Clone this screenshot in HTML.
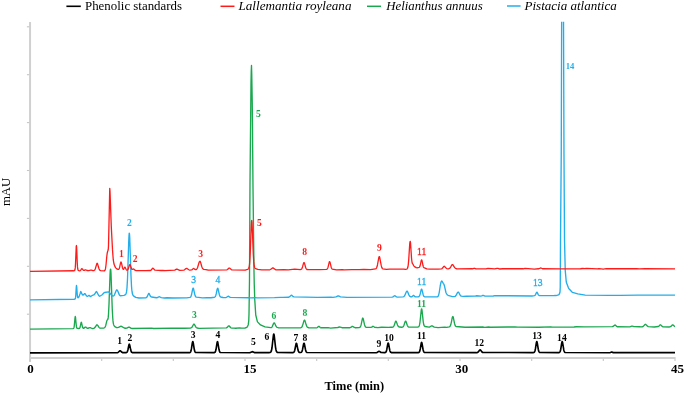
<!DOCTYPE html>
<html><head><meta charset="utf-8"><title>HPLC chromatograms</title>
<style>
html,body{margin:0;padding:0;background:#fff;}
body{width:685px;height:394px;overflow:hidden;}
svg{display:block;font-family:"Liberation Serif","Times New Roman",serif;}
</style></head><body>
<svg width="685" height="394" viewBox="0 0 685 394">
<rect width="685" height="394" fill="#fff"/>
<defs><clipPath id="plotclip"><rect x="29" y="21.8" width="650" height="340"/></clipPath></defs>
<g stroke="#d0d0d0" stroke-width="2" fill="none">
<line x1="30.05" y1="22" x2="30.05" y2="361.9"/>
<line x1="29.05" y1="357.95" x2="675.6" y2="357.95"/>
</g>
<g stroke="#c6c6c6" stroke-width="1.1" fill="none">
<line x1="26.9" y1="26.8" x2="29.2" y2="26.8"/><line x1="26.9" y1="74.7" x2="29.2" y2="74.7"/><line x1="26.9" y1="122.6" x2="29.2" y2="122.6"/><line x1="26.9" y1="170.5" x2="29.2" y2="170.5"/><line x1="26.9" y1="218.4" x2="29.2" y2="218.4"/><line x1="26.9" y1="266.3" x2="29.2" y2="266.3"/><line x1="26.9" y1="314.2" x2="29.2" y2="314.2"/>
<line x1="30.0" y1="358.7" x2="30.0" y2="361.0"/><line x1="101.7" y1="358.7" x2="101.7" y2="361.0"/><line x1="173.3" y1="358.7" x2="173.3" y2="361.0"/><line x1="245.0" y1="358.7" x2="245.0" y2="361.0"/><line x1="316.7" y1="358.7" x2="316.7" y2="361.0"/><line x1="388.3" y1="358.7" x2="388.3" y2="361.0"/><line x1="460.0" y1="358.7" x2="460.0" y2="361.0"/><line x1="531.7" y1="358.7" x2="531.7" y2="361.0"/><line x1="603.3" y1="358.7" x2="603.3" y2="361.0"/><line x1="675.0" y1="358.7" x2="675.0" y2="361.0"/>
</g>
<g fill="none" stroke-linejoin="round" stroke-linecap="butt">
<path stroke="#1aa84f" stroke-width="1.35" d="M30.00,329.10 L73.00,328.65 L73.50,328.47 L73.75,328.15 L74.00,327.44 L74.25,326.05 L75.00,318.07 L75.25,316.52 L75.50,317.21 L76.25,325.19 L76.50,326.89 L76.75,327.82 L77.00,328.25 L77.25,328.41 L79.00,328.49 L79.25,328.44 L79.50,328.31 L79.75,328.02 L80.00,327.48 L80.50,325.44 L81.00,322.93 L81.25,322.32 L81.50,322.58 L82.50,327.05 L82.75,327.70 L83.00,328.06 L83.25,328.23 L83.50,328.28 L84.00,328.14 L85.25,327.10 L85.50,327.03 L85.75,327.11 L86.75,328.00 L87.25,328.23 L88.00,328.25 L89.75,327.67 L90.25,327.70 L92.00,328.51 L93.00,328.58 L93.75,328.40 L94.50,327.93 L95.25,327.03 L96.50,325.10 L96.75,324.89 L97.00,324.81 L97.25,324.89 L97.75,325.44 L99.00,327.38 L99.50,327.86 L100.25,328.20 L103.50,328.08 L104.25,327.82 L104.75,327.47 L105.25,326.78 L105.75,325.43 L106.75,321.16 L107.00,320.40 L107.25,320.00 L107.75,319.56 L108.00,318.80 L108.25,317.14 L108.50,314.28 L109.00,304.32 L110.00,275.52 L110.25,270.87 L110.50,269.19 L110.75,269.60 L111.00,273.56 L112.25,309.05 L112.75,318.06 L113.00,320.89 L113.25,322.85 L113.50,324.16 L113.75,325.03 L114.25,326.02 L115.25,326.95 L116.50,327.54 L117.50,327.66 L118.50,327.43 L120.50,326.35 L121.00,326.25 L121.50,326.33 L124.25,327.98 L125.75,328.28 L126.75,328.15 L128.75,327.14 L129.25,327.15 L131.25,328.31 L132.50,328.52 L151.50,328.14 L153.75,328.48 L171.75,328.08 L184.50,328.29 L190.75,327.98 L191.50,327.66 L192.00,327.18 L193.50,324.48 L193.75,324.19 L194.00,324.11 L194.25,324.24 L194.75,325.01 L195.75,326.92 L196.25,327.53 L197.00,328.02 L199.00,328.44 L226.25,327.94 L226.75,327.75 L227.25,327.35 L228.25,326.11 L228.50,325.91 L228.75,325.82 L229.00,325.82 L229.50,326.29 L230.50,327.53 L231.00,327.87 L232.00,328.08 L234.00,328.07 L235.75,328.29 L239.50,327.88 L241.75,328.17 L245.00,328.01 L246.25,327.66 L247.25,326.88 L247.50,326.52 L248.25,324.69 L248.75,320.87 L249.00,314.05 L249.50,279.94 L250.00,182.72 L251.00,82.54 L251.25,70.87 L251.50,65.54 L251.75,74.41 L252.25,103.50 L253.00,187.98 L254.00,271.74 L254.25,284.61 L254.75,299.58 L255.75,315.01 L257.25,321.11 L257.50,321.85 L260.50,324.94 L265.00,326.84 L270.75,327.68 L271.25,327.58 L271.75,327.24 L272.25,326.52 L273.50,323.63 L273.75,323.21 L274.00,322.99 L274.25,322.91 L274.50,323.05 L275.00,323.97 L276.00,326.22 L276.50,326.93 L277.00,327.34 L278.25,327.72 L290.50,327.86 L300.75,327.72 L301.25,327.56 L301.75,327.14 L302.25,326.31 L303.00,324.11 L303.75,321.40 L304.00,320.71 L304.25,320.30 L304.50,320.17 L304.75,320.34 L305.00,320.87 L306.25,325.07 L306.75,326.26 L307.25,327.01 L307.75,327.43 L308.75,327.76 L316.50,327.83 L317.25,327.58 L318.50,326.43 L318.75,326.32 L319.00,326.36 L320.25,327.52 L321.00,327.79 L328.25,327.70 L330.50,328.10 L337.75,327.51 L339.50,326.98 L340.25,327.05 L342.00,327.72 L350.00,327.72 L350.75,327.47 L352.00,326.47 L352.25,326.35 L352.50,326.34 L353.00,326.56 L354.25,327.44 L355.50,327.75 L359.25,327.57 L359.75,327.40 L360.25,326.96 L360.75,325.97 L361.25,324.20 L362.25,319.32 L362.50,318.46 L362.75,318.07 L363.00,318.23 L363.25,318.90 L364.50,324.67 L365.00,326.15 L365.50,326.92 L366.00,327.26 L371.00,327.38 L371.75,327.16 L372.75,326.41 L373.00,326.30 L373.25,326.32 L374.50,327.24 L377.75,327.58 L381.50,327.23 L388.75,327.31 L390.75,327.08 L392.25,327.23 L392.75,327.14 L393.25,326.87 L393.75,326.29 L394.25,325.26 L395.50,321.51 L395.75,321.12 L396.00,321.07 L396.25,321.37 L397.50,324.97 L398.00,325.99 L398.50,326.57 L399.50,327.04 L401.75,327.29 L402.50,327.16 L403.00,326.87 L403.50,326.26 L404.00,325.16 L405.00,322.01 L405.25,321.42 L405.50,321.10 L405.75,321.12 L406.00,321.49 L407.25,325.22 L407.75,326.26 L408.25,326.84 L409.00,327.19 L417.75,327.11 L418.25,326.97 L418.75,326.62 L419.00,326.28 L419.25,325.73 L419.50,324.89 L420.00,322.01 L421.25,310.09 L421.50,308.99 L421.75,308.96 L422.00,310.11 L423.25,321.87 L423.75,324.57 L424.00,325.35 L424.25,325.85 L424.50,326.16 L425.00,326.46 L429.00,327.07 L429.75,326.96 L431.50,325.92 L431.75,325.85 L432.25,325.95 L434.25,327.06 L438.00,327.61 L444.75,327.14 L446.75,327.34 L449.25,326.85 L449.75,326.60 L450.25,325.99 L450.75,324.78 L451.50,321.54 L452.25,317.73 L452.50,316.90 L452.75,316.55 L453.00,316.61 L453.25,317.22 L454.50,323.41 L455.00,325.13 L455.50,326.09 L456.00,326.51 L465.00,327.26 L482.75,326.96 L484.75,327.30 L488.50,327.03 L490.50,327.24 L508.00,327.03 L515.00,326.92 L517.75,327.19 L538.75,327.21 L550.75,326.80 L552.50,327.15 L574.00,327.01 L576.25,326.78 L584.25,326.90 L612.25,326.66 L613.00,326.45 L614.75,325.10 L615.00,325.03 L615.25,325.08 L616.75,326.48 L617.50,326.77 L629.75,326.88 L631.75,326.14 L632.25,326.12 L634.00,326.66 L639.25,326.71 L641.25,326.94 L642.50,326.73 L643.25,326.35 L645.00,324.50 L645.25,324.34 L645.50,324.29 L645.75,324.37 L647.50,326.20 L648.25,326.64 L654.25,327.02 L658.25,326.51 L658.75,326.28 L660.25,324.86 L660.50,324.80 L660.75,324.87 L662.25,326.43 L663.00,326.81 L669.50,326.97 L670.50,326.68 L671.25,326.12 L672.25,325.04 L672.50,324.88 L672.75,324.85 L673.00,324.94 L674.50,326.35 L675.00,326.60"/>
<path stroke="#22aeea" stroke-width="1.35" clip-path="url(#plotclip)" d="M30.00,299.80 L74.00,299.24 L75.00,299.00 L75.25,298.80 L75.50,297.95 L75.75,295.72 L76.25,287.62 L76.50,285.40 L76.75,287.41 L77.25,294.52 L77.50,296.60 L77.75,297.55 L78.00,297.77 L78.25,297.69 L78.75,297.24 L79.00,296.85 L80.00,293.89 L80.50,292.06 L80.75,291.54 L81.00,291.74 L81.50,293.20 L82.50,294.83 L82.75,295.09 L83.00,295.15 L83.25,294.99 L84.50,293.68 L84.75,293.56 L85.00,293.65 L86.00,295.19 L86.75,296.03 L87.00,296.23 L87.25,296.28 L88.00,296.06 L88.75,295.49 L89.00,295.40 L89.25,295.50 L90.25,296.45 L90.50,296.57 L90.75,296.53 L92.50,295.28 L93.75,294.96 L94.50,294.38 L96.25,291.67 L96.50,291.51 L96.75,291.69 L98.50,295.21 L99.25,296.01 L99.50,296.18 L99.75,296.24 L102.25,294.71 L104.00,292.80 L104.50,292.47 L108.50,291.89 L108.75,291.91 L109.00,292.02 L111.50,295.12 L112.75,296.05 L113.00,296.13 L113.75,295.73 L114.25,295.18 L116.25,290.39 L116.50,290.04 L116.75,289.85 L117.00,289.87 L117.25,290.12 L117.75,291.05 L119.25,294.63 L119.75,295.38 L120.25,295.76 L124.00,295.33 L125.00,294.95 L125.50,294.59 L125.75,294.29 L126.00,293.82 L126.25,293.10 L126.50,291.97 L126.75,290.22 L127.00,287.61 L127.50,278.92 L128.75,241.14 L129.00,235.65 L129.25,233.19 L129.50,233.96 L129.75,238.14 L131.00,276.07 L131.50,286.05 L131.75,289.24 L132.00,291.48 L132.25,293.01 L132.50,294.04 L133.00,295.25 L133.75,296.15 L135.75,297.42 L139.00,297.99 L146.00,297.74 L146.50,297.52 L147.00,296.94 L148.25,294.17 L148.50,293.99 L148.75,293.35 L149.00,293.38 L150.25,296.01 L150.75,296.60 L151.50,296.98 L156.50,297.71 L157.50,297.54 L159.00,296.75 L159.50,296.73 L161.25,297.60 L164.25,297.96 L167.00,297.71 L173.25,297.96 L186.75,297.87 L190.00,297.43 L190.50,297.14 L190.75,296.84 L191.00,296.37 L191.50,294.82 L192.50,289.87 L192.75,288.88 L193.00,288.34 L193.25,288.17 L193.50,288.55 L194.75,294.34 L195.25,295.93 L195.75,296.79 L196.25,297.20 L202.50,297.84 L207.00,297.64 L211.00,297.75 L214.50,297.23 L215.00,296.92 L215.25,296.62 L215.75,295.54 L216.25,293.64 L217.00,289.93 L217.25,288.98 L217.50,288.47 L217.75,288.27 L218.00,288.61 L219.25,294.26 L219.75,295.80 L220.25,296.61 L220.75,296.99 L223.00,297.53 L225.50,297.56 L226.50,297.28 L228.00,296.31 L228.25,296.24 L228.50,296.26 L230.25,297.42 L248.50,297.74 L250.00,297.95 L255.00,297.59 L257.25,297.91 L274.50,297.62 L280.50,297.34 L282.75,297.38 L288.50,297.26 L289.25,296.96 L291.00,295.41 L291.50,295.26 L291.75,295.32 L293.25,296.69 L294.00,296.94 L317.50,297.36 L331.00,297.22 L333.00,297.40 L336.00,296.92 L338.00,295.93 L338.50,295.91 L340.50,296.83 L347.00,297.30 L392.00,297.19 L393.00,296.83 L394.50,295.80 L394.75,295.76 L395.25,295.94 L396.50,296.83 L397.50,297.07 L403.00,296.81 L403.75,296.55 L404.25,296.17 L404.75,295.49 L406.25,292.01 L406.50,291.58 L406.75,291.34 L407.00,291.22 L407.25,291.26 L407.50,291.58 L409.00,295.12 L409.50,295.91 L410.00,296.40 L410.75,296.78 L411.50,296.86 L412.00,296.71 L412.50,296.33 L413.25,295.51 L413.50,295.38 L413.75,295.42 L415.00,296.71 L415.50,296.92 L418.25,296.85 L418.75,296.68 L419.25,296.26 L419.75,295.34 L420.25,293.70 L421.00,290.41 L421.25,289.55 L421.50,289.11 L421.75,289.19 L422.00,289.80 L423.25,295.02 L423.75,296.16 L424.00,296.46 L424.50,296.73 L437.25,296.91 L438.50,295.66 L439.25,292.28 L440.25,285.75 L441.00,282.02 L441.50,281.25 L441.75,281.01 L442.50,282.02 L443.25,283.37 L443.75,283.96 L444.00,284.46 L444.50,286.10 L446.00,292.75 L447.00,294.54 L448.00,295.35 L452.50,296.64 L454.25,296.63 L455.00,296.41 L455.50,296.08 L456.00,295.51 L457.50,292.66 L457.75,292.32 L458.25,292.07 L458.50,292.18 L459.00,292.95 L460.00,294.94 L460.50,295.58 L461.25,296.08 L463.25,296.41 L466.25,296.29 L475.25,296.15 L476.75,295.74 L480.75,296.12 L481.75,295.91 L482.75,295.45 L483.25,295.42 L485.00,296.17 L493.25,296.03 L495.00,295.62 L532.00,295.98 L534.50,295.68 L535.00,295.35 L535.50,294.62 L536.50,292.53 L536.75,292.32 L537.00,292.29 L537.25,292.57 L538.25,294.59 L538.75,295.21 L539.25,295.50 L553.50,295.67 L555.50,295.49 L556.00,295.55 L558.50,294.85 L558.75,294.72 L559.50,293.77 L560.00,292.01 L560.25,287.09 L560.50,239.87 L561.25,153.58 L561.75,-16.14 L562.00,-78.91 L562.25,-100.00 L563.00,-100.00 L563.25,-54.63 L564.00,156.09 L564.50,239.70 L565.25,270.62 L566.25,281.72 L566.50,282.80 L568.50,288.05 L568.75,288.47 L572.25,292.25 L572.50,292.45 L577.75,293.90 L585.25,295.10 L609.50,295.37 L620.25,295.33 L637.75,295.09 L675.00,295.14"/>
<path stroke="#ff1a1a" stroke-width="1.3" d="M30.00,271.40 L73.75,270.77 L74.25,270.66 L74.50,270.54 L74.75,270.24 L75.00,269.47 L75.25,267.65 L75.50,264.05 L76.25,246.16 L76.50,245.54 L76.75,250.14 L77.25,262.89 L77.50,266.89 L77.75,269.01 L78.00,269.94 L78.25,270.33 L79.00,270.68 L79.75,270.78 L80.25,270.62 L80.75,270.14 L81.50,268.97 L81.75,268.71 L82.00,268.67 L82.25,268.85 L83.25,270.19 L83.75,270.46 L84.25,270.42 L85.25,269.86 L85.50,269.80 L86.00,269.96 L87.00,270.52 L88.75,270.63 L90.75,270.05 L91.25,270.05 L93.00,270.59 L93.75,270.55 L94.25,270.36 L94.75,269.92 L95.25,269.02 L96.75,263.90 L97.00,263.40 L97.25,263.28 L97.50,263.60 L99.00,268.77 L99.50,269.80 L100.00,270.32 L100.75,270.57 L104.50,270.80 L104.75,270.54 L105.25,269.71 L105.50,268.71 L106.00,264.98 L106.75,256.76 L107.25,252.82 L107.75,251.05 L108.00,250.56 L108.25,249.45 L108.50,245.83 L109.75,188.37 L110.00,191.31 L111.25,225.69 L112.50,249.89 L113.25,259.70 L114.00,264.04 L114.75,266.12 L115.75,267.84 L116.75,268.87 L118.00,269.40 L118.50,269.39 L118.75,269.27 L119.00,269.00 L119.25,268.53 L119.50,267.85 L120.50,263.15 L120.75,262.34 L121.00,262.04 L121.25,262.33 L121.50,263.13 L122.50,267.71 L122.75,268.50 L123.00,269.02 L123.25,269.27 L123.50,269.26 L123.75,269.02 L124.50,267.57 L124.75,267.24 L125.00,267.24 L125.25,267.56 L126.00,269.26 L126.50,270.00 L126.75,270.17 L127.00,270.22 L127.25,270.18 L127.50,270.04 L127.75,269.79 L128.25,268.90 L129.50,265.03 L129.75,264.61 L130.00,264.58 L130.25,264.95 L131.25,268.09 L131.50,268.70 L131.75,269.13 L132.00,269.38 L132.25,269.45 L133.25,269.02 L133.50,269.00 L133.75,269.10 L135.00,270.20 L136.00,270.54 L145.75,270.70 L150.50,270.48 L151.00,270.23 L152.50,268.37 L152.75,268.23 L153.00,268.25 L153.50,268.68 L154.50,269.80 L155.25,270.18 L161.00,270.48 L162.75,270.30 L165.00,270.60 L174.75,270.07 L176.50,269.19 L177.00,269.17 L179.75,270.28 L183.75,270.10 L184.50,269.79 L186.00,268.50 L186.50,268.34 L187.00,268.49 L188.75,269.75 L189.75,270.09 L191.50,269.91 L192.25,269.58 L193.25,268.59 L193.50,268.44 L193.75,268.43 L195.00,269.46 L195.50,269.65 L196.00,269.64 L196.50,269.40 L197.00,268.83 L197.50,267.79 L199.00,262.73 L199.25,262.08 L199.50,261.67 L200.00,261.19 L200.25,261.44 L200.75,262.87 L201.75,266.49 L202.25,267.80 L202.75,268.65 L203.25,269.14 L203.75,269.36 L206.00,269.60 L208.25,270.17 L226.75,269.86 L227.50,269.52 L228.75,268.30 L229.00,268.13 L229.25,268.06 L229.50,268.10 L231.25,269.56 L232.00,269.88 L245.25,270.04 L247.50,269.43 L248.25,268.96 L248.50,268.68 L248.75,268.24 L249.00,267.51 L249.25,266.33 L249.50,264.47 L249.75,261.67 L250.25,252.53 L251.25,225.73 L251.50,221.59 L251.75,220.39 L252.00,222.12 L252.50,233.51 L253.25,253.58 L253.75,261.90 L254.00,264.37 L254.25,266.01 L254.50,267.05 L254.75,267.71 L255.00,268.13 L255.50,268.61 L257.75,269.41 L261.75,269.83 L269.50,269.83 L270.50,269.50 L272.50,268.00 L273.00,267.91 L273.50,268.13 L275.00,269.36 L276.00,269.79 L283.75,269.60 L288.25,269.91 L294.75,269.15 L300.25,269.61 L301.00,269.44 L301.50,269.08 L302.00,268.29 L302.50,266.92 L303.50,263.35 L303.75,262.79 L304.00,262.60 L304.25,262.82 L304.50,263.40 L305.75,267.78 L306.25,268.86 L306.75,269.42 L307.25,269.68 L320.00,269.54 L326.25,269.44 L326.75,269.31 L327.25,268.96 L327.50,268.61 L328.00,267.38 L329.25,262.13 L329.50,261.63 L329.75,261.66 L330.00,262.22 L331.25,267.38 L331.75,268.56 L332.25,269.12 L336.50,269.78 L342.25,269.54 L344.25,269.89 L351.75,269.54 L359.25,269.64 L363.75,269.39 L370.50,269.65 L375.50,268.98 L376.00,268.71 L376.50,268.07 L377.00,266.81 L377.50,264.73 L378.75,257.80 L379.00,256.95 L379.25,256.61 L379.50,256.82 L379.75,257.57 L381.25,265.63 L381.75,267.37 L382.25,268.38 L382.75,268.87 L386.50,269.41 L389.50,269.09 L403.75,269.04 L405.50,269.35 L406.50,269.18 L407.00,268.92 L407.25,268.67 L407.50,268.26 L407.75,267.58 L408.00,266.50 L408.25,264.84 L408.75,259.33 L409.75,243.66 L410.00,241.76 L410.25,241.35 L410.50,242.93 L411.50,257.59 L411.75,260.26 L412.00,262.07 L412.25,263.14 L412.50,263.69 L413.25,264.70 L414.00,266.09 L414.50,266.65 L416.25,267.64 L417.00,267.78 L419.25,267.29 L419.50,267.09 L419.75,266.72 L420.00,266.10 L420.50,264.10 L421.25,260.49 L421.50,259.90 L421.75,259.97 L422.00,260.67 L423.00,265.54 L423.25,266.42 L423.50,267.03 L423.75,267.42 L424.00,267.64 L426.75,268.84 L430.00,269.05 L438.25,269.06 L441.50,268.83 L442.00,268.60 L442.75,267.79 L443.75,266.46 L444.00,266.30 L444.25,266.26 L444.50,266.37 L446.00,268.03 L446.75,268.52 L448.25,268.83 L449.00,268.72 L449.50,268.48 L450.00,268.03 L450.75,266.87 L451.75,265.00 L452.00,264.74 L452.50,264.53 L452.75,264.68 L454.50,267.45 L455.50,268.37 L456.25,268.75 L457.25,268.84 L472.50,268.76 L474.00,268.26 L474.50,268.30 L476.00,268.89 L486.00,268.91 L488.00,268.30 L494.75,268.92 L497.00,268.28 L497.75,268.37 L499.50,268.98 L503.00,268.74 L523.25,268.76 L525.00,268.33 L534.25,269.07 L538.50,268.77 L540.50,267.99 L541.00,267.99 L542.50,268.76 L560.50,268.82 L580.50,268.77 L582.75,268.49 L584.50,268.62 L586.50,268.35 L597.25,268.89 L599.00,268.68 L603.25,269.09 L606.25,268.68 L636.75,268.74 L639.25,268.90 L645.00,268.62 L675.00,268.81"/>
<path stroke="#000" stroke-width="1.65" d="M30.00,352.90 L117.25,352.75 L118.00,352.50 L119.75,350.89 L120.00,350.79 L120.25,350.80 L120.75,351.13 L122.00,352.35 L122.75,352.68 L126.00,352.69 L126.50,352.56 L127.00,352.20 L127.25,351.83 L127.50,351.28 L128.00,349.47 L128.75,345.64 L129.00,344.66 L129.25,344.20 L129.50,344.41 L129.75,345.20 L130.75,350.11 L131.25,351.64 L131.50,352.08 L131.75,352.36 L132.25,352.63 L189.50,352.64 L190.00,352.47 L190.25,352.30 L190.50,352.00 L190.75,351.52 L191.00,350.80 L191.50,348.45 L192.25,343.47 L192.50,342.20 L192.75,341.61 L193.00,341.87 L193.25,342.90 L194.25,349.28 L194.75,351.26 L195.00,351.83 L195.25,352.19 L195.75,352.54 L214.00,352.66 L214.75,352.44 L215.00,352.24 L215.25,351.91 L215.50,351.39 L216.00,349.53 L217.00,343.18 L217.25,342.02 L217.50,341.59 L217.75,342.02 L219.00,349.53 L219.50,351.39 L219.75,351.91 L220.00,352.24 L220.50,352.55 L249.75,352.72 L252.25,351.69 L252.75,351.74 L254.75,352.65 L269.50,352.57 L270.25,352.38 L270.75,352.02 L271.00,351.67 L271.25,351.14 L271.50,350.35 L272.00,347.75 L273.25,336.50 L273.50,334.86 L273.75,334.11 L274.00,334.44 L274.25,335.75 L275.50,347.04 L276.00,349.94 L276.25,350.85 L276.50,351.48 L276.75,351.89 L277.25,352.32 L292.75,352.65 L293.50,352.46 L294.00,352.06 L294.25,351.66 L294.75,350.27 L296.00,344.06 L296.25,343.37 L296.50,343.30 L296.75,343.87 L298.00,350.04 L298.50,351.51 L298.75,351.94 L299.00,352.20 L299.50,352.46 L300.75,352.49 L301.25,352.31 L301.50,352.11 L301.75,351.79 L302.00,351.30 L302.50,349.64 L303.50,344.47 L303.75,343.58 L304.00,343.25 L304.25,343.58 L304.50,344.48 L305.50,349.67 L306.00,351.34 L306.25,351.84 L306.50,352.18 L307.00,352.51 L376.25,352.72 L377.00,352.50 L378.75,351.32 L379.00,351.27 L379.50,351.43 L381.00,352.48 L384.75,352.65 L385.50,352.43 L385.75,352.24 L386.00,351.92 L386.25,351.43 L386.75,349.70 L387.75,344.13 L388.00,343.23 L388.25,343.01 L388.50,343.52 L389.75,350.14 L390.00,351.03 L390.25,351.66 L390.50,352.07 L390.75,352.33 L391.25,352.58 L418.25,352.63 L418.75,352.49 L419.25,352.09 L419.50,351.69 L419.75,351.07 L420.25,349.01 L421.25,343.15 L421.50,342.46 L421.75,342.54 L422.00,343.37 L423.00,349.26 L423.50,351.21 L423.75,351.78 L424.00,352.15 L424.50,352.51 L476.75,352.69 L477.50,352.48 L478.25,351.91 L479.50,350.27 L479.75,350.03 L480.00,349.91 L480.25,349.92 L480.50,350.07 L482.00,351.96 L482.75,352.50 L533.50,352.58 L534.00,352.42 L534.25,352.24 L534.50,351.95 L534.75,351.47 L535.00,350.75 L535.50,348.41 L536.25,343.47 L536.50,342.20 L536.75,341.61 L537.00,341.87 L537.25,342.90 L538.25,349.24 L538.75,351.21 L539.00,351.78 L539.25,352.14 L539.75,352.48 L558.75,352.60 L559.25,352.48 L559.75,352.13 L560.00,351.78 L560.25,351.21 L560.75,349.24 L561.75,342.90 L562.00,341.87 L562.25,341.61 L562.50,342.20 L563.75,349.73 L564.00,350.75 L564.25,351.47 L564.50,351.94 L564.75,352.24 L565.25,352.52 L609.75,352.71 L610.50,352.52 L611.50,352.03 L611.75,352.00 L613.25,352.63 L675.00,352.60"/>
</g>
<g>
<text x="121.3" y="257.0" fill="#ff1a1a" font-size="9.6" font-weight="bold" text-anchor="middle">1</text>
<text x="135.1" y="261.8" fill="#ff1a1a" font-size="9.6" font-weight="bold" text-anchor="middle">2</text>
<text x="200.6" y="256.5" fill="#ff1a1a" font-size="9.6" font-weight="bold" text-anchor="middle">3</text>
<text x="259.3" y="226.2" fill="#ff1a1a" font-size="9.6" font-weight="bold" text-anchor="middle">5</text>
<text x="304.7" y="255.4" fill="#ff1a1a" font-size="9.6" font-weight="bold" text-anchor="middle">8</text>
<text x="379.3" y="250.8" fill="#ff1a1a" font-size="9.6" font-weight="bold" text-anchor="middle">9</text>
<text x="421.6" y="255.1" fill="#ff1a1a" stroke="#ff1a1a" stroke-width="0.3" font-size="9.6" font-weight="normal" text-anchor="middle">11</text>
<text x="129.5" y="226.4" fill="#22aeea" font-size="9.6" font-weight="bold" text-anchor="middle">2</text>
<text x="193.6" y="282.5" fill="#22aeea" stroke="#22aeea" stroke-width="0.3" font-size="9.6" font-weight="normal" text-anchor="middle">3</text>
<text x="218.0" y="282.5" fill="#22aeea" stroke="#22aeea" stroke-width="0.3" font-size="9.6" font-weight="normal" text-anchor="middle">4</text>
<text x="421.6" y="284.8" fill="#22aeea" stroke="#22aeea" stroke-width="0.3" font-size="9.6" font-weight="normal" text-anchor="middle">11</text>
<text x="537.7" y="286.4" fill="#22aeea" stroke="#22aeea" stroke-width="0.3" font-size="9.6" font-weight="normal" text-anchor="middle">13</text>
<text x="570.0" y="69.0" fill="#22aeea" font-size="8.6" font-weight="bold" text-anchor="middle">14</text>
<text x="258.4" y="117.0" fill="#1aa84f" font-size="9.6" font-weight="bold" text-anchor="middle">5</text>
<text x="194.4" y="318.3" fill="#1aa84f" font-size="9.6" font-weight="bold" text-anchor="middle">3</text>
<text x="273.8" y="318.8" fill="#1aa84f" font-size="9.6" font-weight="bold" text-anchor="middle">6</text>
<text x="304.9" y="316.2" fill="#1aa84f" font-size="9.6" font-weight="bold" text-anchor="middle">8</text>
<text x="421.6" y="307.3" fill="#1aa84f" font-size="9.6" font-weight="bold" text-anchor="middle">11</text>
<text x="119.6" y="343.7" fill="#000" font-size="9.6" font-weight="bold" text-anchor="middle">1</text>
<text x="129.9" y="340.5" fill="#000" font-size="9.6" font-weight="bold" text-anchor="middle">2</text>
<text x="193.1" y="337.8" fill="#000" font-size="9.6" font-weight="bold" text-anchor="middle">3</text>
<text x="218.0" y="337.8" fill="#000" font-size="9.6" font-weight="bold" text-anchor="middle">4</text>
<text x="253.3" y="345.3" fill="#000" font-size="9.6" font-weight="bold" text-anchor="middle">5</text>
<text x="267.0" y="340.0" fill="#000" font-size="9.6" font-weight="bold" text-anchor="middle">6</text>
<text x="296.0" y="341.0" fill="#000" font-size="9.6" font-weight="bold" text-anchor="middle">7</text>
<text x="304.9" y="341.0" fill="#000" font-size="9.6" font-weight="bold" text-anchor="middle">8</text>
<text x="379.0" y="346.7" fill="#000" font-size="9.6" font-weight="bold" text-anchor="middle">9</text>
<text x="389.1" y="340.5" fill="#000" font-size="9.6" font-weight="bold" text-anchor="middle">10</text>
<text x="421.5" y="339.3" fill="#000" font-size="9.6" font-weight="bold" text-anchor="middle">11</text>
<text x="479.2" y="346.2" fill="#000" font-size="9.6" font-weight="bold" text-anchor="middle">12</text>
<text x="537.0" y="338.7" fill="#000" font-size="9.6" font-weight="bold" text-anchor="middle">13</text>
<text x="561.9" y="340.5" fill="#000" font-size="9.6" font-weight="bold" text-anchor="middle">14</text>
</g>
<g font-size="13" fill="#000">
<line x1="66.4" y1="6.3" x2="80.8" y2="6.3" stroke="#000" stroke-width="1.6"/>
<text x="85" y="10.1" textLength="97" lengthAdjust="spacingAndGlyphs">Phenolic standards</text>
<line x1="220.5" y1="6.3" x2="234.5" y2="6.3" stroke="#ff1a1a" stroke-width="1.5"/>
<text x="238.5" y="10.1" font-style="italic" textLength="113" lengthAdjust="spacingAndGlyphs">Lallemantia royleana</text>
<line x1="367" y1="6.3" x2="381" y2="6.3" stroke="#1aa84f" stroke-width="1.5"/>
<text x="386.2" y="10.1" font-style="italic" textLength="96.5" lengthAdjust="spacingAndGlyphs">Helianthus annuus</text>
<line x1="507" y1="6" x2="520.6" y2="6" stroke="#22aeea" stroke-width="1.5"/>
<text x="524.5" y="10.4" font-style="italic" textLength="92.3" lengthAdjust="spacingAndGlyphs">Pistacia atlantica</text>
</g>
<g font-size="13" font-weight="bold" fill="#000">
<text x="30.5" y="373.3" text-anchor="middle">0</text>
<text x="250" y="373.3" text-anchor="middle">15</text>
<text x="461.7" y="373.3" text-anchor="middle">30</text>
<text x="677.6" y="373.3" text-anchor="middle">45</text>
<text x="324.5" y="389.9" textLength="59.6" lengthAdjust="spacingAndGlyphs">Time (min)</text>
</g>
<text font-size="12.8" fill="#000" text-anchor="middle" transform="translate(9.6,191.9) rotate(-90)">mAU</text>
</svg>
</body></html>
